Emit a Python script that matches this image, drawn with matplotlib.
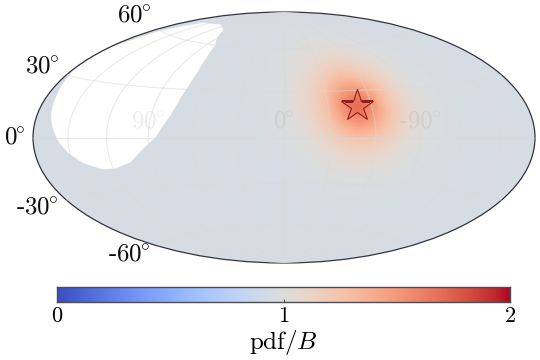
import numpy as np
import matplotlib
matplotlib.use('Agg')
import matplotlib.pyplot as plt
from matplotlib.transforms import ScaledTranslation

plt.rcParams['font.family'] = ['cmr10', 'DejaVu Sans']
plt.rcParams['mathtext.fontset'] = 'cm'
plt.rcParams['axes.formatter.use_mathtext'] = True

# Source position (labelled longitude, latitude), degrees
star_lon, star_lat = -50.0, 20.0
# Radial profile of pdf/B around the source
profile_dist = [0, 5, 10, 15, 20, 25, 30, 35, 40, 50, 60, 70, 180]
profile_pdf = [1.66, 1.62, 1.52, 1.40, 1.28, 1.19, 1.12, 1.07, 1.03, 0.985, 0.965, 0.95, 0.95]
# Boundary of the unexposed (blank) sky region, labelled longitude and latitude
hole_lon = [104.0, 126.6, 158.1, 165.4, 171.2, 173.5, 179.0,
            177.9, 178.7, 174.6, 170.9, 168.5, 164.7, 158.3,
            150.8, 141.3, 128.4, 118.1, 105.2, 93.7, 84.9,
            80.6, 76.4, 74.0, 71.9, 71.5, 74.1, 80.3]
hole_lat = [70.3, 72.7, 70.3, 64.7, 59.0, 51.5, 45.4,
            37.3, 32.7, 26.3, 19.0, 13.3, 7.1, -1.2,
            -7.9, -13.5, -17.4, -17.3, -14.2, -6.2, 0.3,
            7.0, 13.8, 21.3, 31.5, 41.4, 50.9, 60.0]
lat_ticks = [-60, -30, 0, 30, 60]
lat_labels = ['-$60^{\\!\\!\\circ}$', '-$30^{\\!\\!\\circ}$', '$0^{\\!\\!\\circ}$',
              '$30^{\\!\\!\\circ}$', '$60^{\\!\\!\\circ}$']
lon_ticks = [-150, -120, -90, -60, -30, 0, 30, 60, 90, 120, 150]
lon_labels = ['', '', '$90^{\\!\\!\\circ}$', '', '', '$0^{\\!\\!\\circ}$', '', '',
              '-$90^{\\!\\!\\circ}$', '', '']
cbar_ticks = [0, 1, 2]
cbar_labels = ['0', '1', '2']
# shift of each latitude label (points, right/up)
lat_shift = [(0, 1.5), (0, -1.5), (0, -0.5), (0, 1.2), (0, 1.2)]

fig = plt.figure(figsize=(5.4, 3.6), dpi=100)
W, H = 540.0, 360.0
ax = fig.add_axes([32 / W, (H - 263) / H, 504 / W, 251 / H], projection='hammer')

lon_grid = np.radians(np.linspace(-179.5, 179.5, 361))
lat_grid = np.radians(np.linspace(-89.5, 89.5, 181))
LON, LAT = np.meshgrid(lon_grid, lat_grid)
# plotted x runs opposite to the labelled longitude
s_x, s_y = np.radians(-star_lon), np.radians(star_lat)
cosd = np.sin(LAT) * np.sin(s_y) + np.cos(LAT) * np.cos(s_y) * np.cos(LON - s_x)
dist = np.degrees(np.arccos(np.clip(cosd, -1, 1)))
pdf = np.interp(dist, profile_dist, profile_pdf)
ax.pcolormesh(LON, LAT, pdf, cmap='coolwarm', vmin=0, vmax=2, shading='auto', zorder=1, rasterized=True)
ax.fill(-np.radians(hole_lon), np.radians(hole_lat), color='white', lw=0.5, zorder=2)

ax.set_longitude_grid(30)
ax.set_latitude_grid(30)
ax.set_longitude_grid_ends(90)
ax.xaxis.set_major_locator(matplotlib.ticker.FixedLocator(np.radians(lon_ticks)))
ax.xaxis.set_major_formatter(matplotlib.ticker.FixedFormatter(lon_labels))
ax.yaxis.set_major_locator(matplotlib.ticker.FixedLocator(np.radians(lat_ticks)))
ax.yaxis.set_major_formatter(matplotlib.ticker.FixedFormatter(lat_labels))
ax.grid(True, color='0.85', alpha=0.55, lw=0.8, zorder=3)
ax.set_axisbelow(False)
ax.tick_params(axis='x', labelsize=18, labelcolor=(0.5, 0.5, 0.5, 0.14))
ax.tick_params(axis='y', labelsize=18, labelcolor=(0.05, 0.05, 0.05))
for sp in ax.spines.values():
    sp.set_edgecolor((0.2, 0.2, 0.25))
    sp.set_linewidth(0.9)
fig.canvas.draw()
for lab, (dx, dy) in zip(ax.yaxis.get_ticklabels(), lat_shift):
    lab.set_transform(lab.get_transform() + ScaledTranslation(dx / 72, dy / 72, fig.dpi_scale_trans))

ax.plot([np.radians(-star_lon)], [np.radians(star_lat)], marker='*', ms=24, mfc=(0.85, 0.25, 0.18, 0.15),
        mec=(0.58, 0.12, 0.1), mew=0.8, ls='none', zorder=5)

cax = fig.add_axes([57 / W, (H - 302) / H, 453 / W, 15 / H])
grad = np.linspace(0, 2, 256)[None, :]
im = cax.imshow(grad, cmap='coolwarm', vmin=0, vmax=2, aspect='auto', extent=[0, 2, 0, 1])
cax.set_yticks([])
cax.set_xticks(cbar_ticks, cbar_labels, fontsize=16)
cax.tick_params(axis='x', direction='in', length=2.5, width=0.6, pad=3.5, color=(0.2, 0.2, 0.2))
for sp in cax.spines.values():
    sp.set_edgecolor((0.3, 0.3, 0.33))
    sp.set_linewidth(1.0)
cax.set_xlabel('$\\mathrm{pdf}/B$', fontsize=18, labelpad=1)

fig.savefig('out.png', dpi=100, facecolor='white')
